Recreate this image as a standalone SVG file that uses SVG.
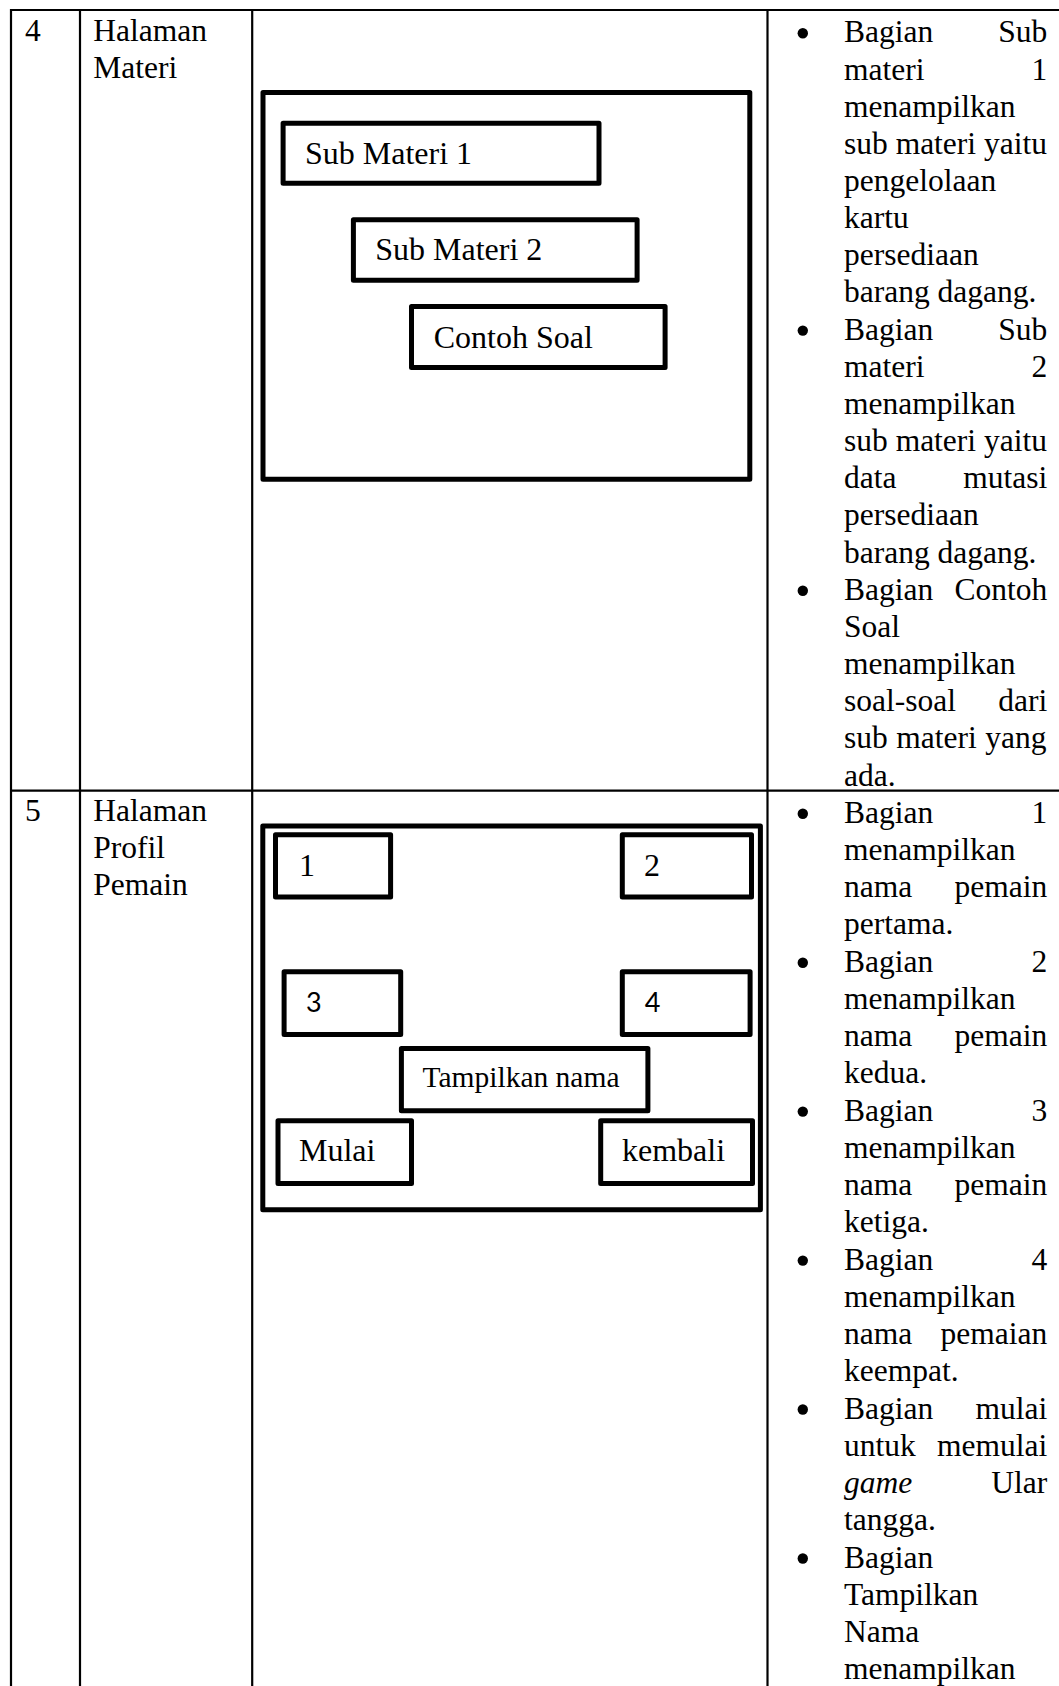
<svg xmlns="http://www.w3.org/2000/svg" width="1059" height="1686" viewBox="0 0 1059 1686">
  <style>
    .grid { stroke: #000; stroke-width: 2.2; fill: none; }
    .frame { fill: #fff; stroke: #000; stroke-width: 5; stroke-linejoin: round; }
    .box { fill: #fff; stroke: #000; stroke-width: 5; stroke-linejoin: round; }
    .cell { font-family: "Liberation Serif", "Times New Roman", serif; font-size: 31.5px; fill: #000; }
    .lbl { font-family: "Liberation Serif", "Times New Roman", serif; font-size: 32px; fill: #000; }
    .lbl-s { font-family: "Liberation Serif", "Times New Roman", serif; font-size: 29.5px; fill: #000; }
    .sans { font-family: Lato, "Open Sans", "Liberation Sans", sans-serif; font-size: 27px; fill: #000; }
    .end { text-anchor: end; }
    .it { font-style: italic; }
  </style>

  <rect x="0" y="0" width="1059" height="1686" fill="#fff"/>

  <!-- table rules -->
  <g id="table-grid" class="grid">
    <line x1="10" y1="10" x2="1059" y2="10"/>
    <line x1="10" y1="790.7" x2="1059" y2="790.7"/>
    <line x1="11" y1="9" x2="11" y2="1686"/>
    <line x1="80" y1="9" x2="80" y2="1686"/>
    <line x1="252.2" y1="9" x2="252.2" y2="1686"/>
    <line x1="767.5" y1="9" x2="767.5" y2="1686"/>
  </g>

  <!-- number and page-name columns -->
  <g id="left-columns" class="cell">
    <text x="25" y="40.5">4</text>
    <text x="93.3" y="40.5">Halaman</text>
    <text x="93.3" y="77.5">Materi</text>
    <text x="25" y="820.7">5</text>
    <text x="93.3" y="820.7">Halaman</text>
    <text x="93.3" y="857.9">Profil</text>
    <text x="93.3" y="895.1">Pemain</text>
  </g>

  <!-- row 4 mock-up: Halaman Materi -->
  <g id="materi-screen">
    <rect class="frame" x="263" y="92.5" width="486.8" height="386.7"/>
  </g>
  <g id="sub-materi-1">
    <rect class="box" x="283.1" y="123.2" width="315.9" height="60.1"/>
    <text class="lbl" x="305" y="164">Sub Materi 1</text>
  </g>
  <g id="sub-materi-2">
    <rect class="box" x="353.4" y="219.8" width="283.7" height="60.4"/>
    <text class="lbl" x="375.2" y="260">Sub Materi 2</text>
  </g>
  <g id="contoh-soal">
    <rect class="box" x="411.5" y="306.5" width="253.6" height="61"/>
    <text class="lbl" x="433.7" y="348.3">Contoh Soal</text>
  </g>

  <!-- row 5 mock-up: Halaman Profil Pemain -->
  <g id="profil-screen">
    <rect class="frame" x="262.8" y="826" width="497.6" height="383.8"/>
  </g>
  <g id="pemain-1">
    <rect class="box" x="275.5" y="834.7" width="115.1" height="62.3"/>
    <text class="lbl" x="299" y="875.7">1</text>
  </g>
  <g id="pemain-2">
    <rect class="box" x="622.3" y="834.7" width="129.2" height="62.3"/>
    <text class="lbl" x="644" y="875.7">2</text>
  </g>
  <g id="pemain-3">
    <rect class="box" x="284.1" y="971.8" width="116.6" height="62.7"/>
    <text class="sans" x="305.9" y="1011.7">3</text>
  </g>
  <g id="pemain-4">
    <rect class="box" x="622.3" y="971.8" width="127.8" height="62.7"/>
    <text class="sans" x="644.7" y="1011.7">4</text>
  </g>
  <g id="tampilkan-nama">
    <rect class="box" x="401.4" y="1048.5" width="246.5" height="62.3"/>
    <text class="lbl-s" x="422.5" y="1086.7">Tampilkan nama</text>
  </g>
  <g id="mulai">
    <rect class="box" x="278" y="1120.8" width="133.5" height="62.7"/>
    <text class="lbl" x="299" y="1161">Mulai</text>
  </g>
  <g id="kembali">
    <rect class="box" x="600.7" y="1120.8" width="151.8" height="62.7"/>
    <text class="lbl" x="622" y="1161">kembali</text>
  </g>

  <!-- description bullets -->
  <g id="bullets" fill="#000">
    <circle cx="802.8" cy="33.3" r="5.2"/>
    <circle cx="802.8" cy="330.6" r="5.2"/>
    <circle cx="802.8" cy="590.7" r="5.2"/>
    <circle cx="802.8" cy="813.7" r="5.2"/>
    <circle cx="802.8" cy="962.7" r="5.2"/>
    <circle cx="802.8" cy="1111.6" r="5.2"/>
    <circle cx="802.8" cy="1260.6" r="5.2"/>
    <circle cx="802.8" cy="1409.5" r="5.2"/>
    <circle cx="802.8" cy="1558.5" r="5.2"/>
  </g>

  <!-- description text, justified between x=844 and x=1047 -->
  <g id="keterangan" class="cell" transform="translate(844 0)">
    <text x="0" y="42.3">Bagian</text><text class="end" x="203.3" y="42.3">Sub</text>
    <text x="0" y="79.5">materi</text><text class="end" x="203.3" y="79.5">1</text>
    <text x="0" y="116.6">menampilkan</text>
    <text x="0" y="153.8">sub materi yaitu</text>
    <text x="0" y="190.9">pengelolaan</text>
    <text x="0" y="228.1">kartu</text>
    <text x="0" y="265.3">persediaan</text>
    <text x="0" y="302.4">barang dagang.</text>
    <text x="0" y="339.6">Bagian</text><text class="end" x="203.3" y="339.6">Sub</text>
    <text x="0" y="376.7">materi</text><text class="end" x="203.3" y="376.7">2</text>
    <text x="0" y="413.9">menampilkan</text>
    <text x="0" y="451.1">sub materi yaitu</text>
    <text x="0" y="488.2">data</text><text class="end" x="203.3" y="488.2">mutasi</text>
    <text x="0" y="525.4">persediaan</text>
    <text x="0" y="562.5">barang dagang.</text>
    <text x="0" y="599.7">Bagian</text><text class="end" x="203.3" y="599.7">Contoh</text>
    <text x="0" y="636.9">Soal</text>
    <text x="0" y="674">menampilkan</text>
    <text x="0" y="711.2">soal-soal</text><text class="end" x="203.3" y="711.2">dari</text>
    <text x="0" y="748.3" word-spacing="0.6">sub materi yang</text>
    <text x="0" y="785.5">ada.</text>

    <text x="0" y="822.7">Bagian</text><text class="end" x="203.3" y="822.7">1</text>
    <text x="0" y="859.9">menampilkan</text>
    <text x="0" y="897.2">nama</text><text class="end" x="203.3" y="897.2">pemain</text>
    <text x="0" y="934.4">pertama.</text>
    <text x="0" y="971.7">Bagian</text><text class="end" x="203.3" y="971.7">2</text>
    <text x="0" y="1008.9">menampilkan</text>
    <text x="0" y="1046.1">nama</text><text class="end" x="203.3" y="1046.1">pemain</text>
    <text x="0" y="1083.4">kedua.</text>
    <text x="0" y="1120.6">Bagian</text><text class="end" x="203.3" y="1120.6">3</text>
    <text x="0" y="1157.9">menampilkan</text>
    <text x="0" y="1195.1">nama</text><text class="end" x="203.3" y="1195.1">pemain</text>
    <text x="0" y="1232.3">ketiga.</text>
    <text x="0" y="1269.6">Bagian</text><text class="end" x="203.3" y="1269.6">4</text>
    <text x="0" y="1306.8">menampilkan</text>
    <text x="0" y="1344.1">nama</text><text class="end" x="203.3" y="1344.1">pemaian</text>
    <text x="0" y="1381.3">keempat.</text>
    <text x="0" y="1418.5">Bagian</text><text class="end" x="203.3" y="1418.5">mulai</text>
    <text x="0" y="1455.8">untuk</text><text class="end" x="203.3" y="1455.8">memulai</text>
    <text class="it" x="0" y="1493">game</text><text class="end" x="203.3" y="1493">Ular</text>
    <text x="0" y="1530.3">tangga.</text>
    <text x="0" y="1567.5">Bagian</text>
    <text x="0" y="1604.7">Tampilkan</text>
    <text x="0" y="1642">Nama</text>
    <text x="0" y="1679.2">menampilkan</text>
  </g>
</svg>
